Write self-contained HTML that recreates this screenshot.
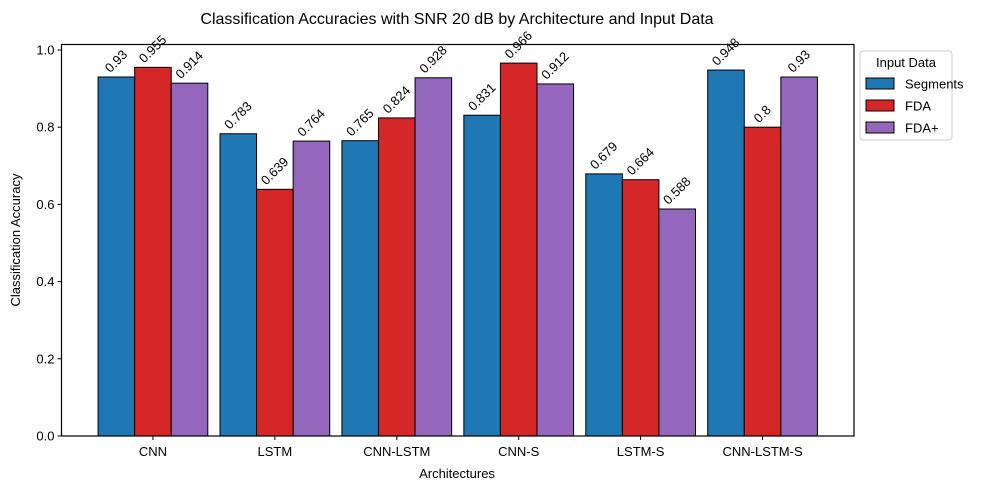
<!DOCTYPE html>
<html><head><meta charset="utf-8"><style>body{margin:0;background:#fff}svg{font-family:"Liberation Sans","DejaVu Sans",sans-serif}</style></head>
<body>
<svg id="c" width="990" height="489" xmlns="http://www.w3.org/2000/svg">
<text x="457" y="24" text-anchor="middle" font-size="16">Classification Accuracies with SNR 20 dB by Architecture and Input Data</text>
<g id="plot"></g>
<text x="457" y="478" text-anchor="middle" font-size="13">Architectures</text>
<text transform="translate(20,240) rotate(-90)" text-anchor="middle" font-size="13">Classification Accuracy</text>
<g>
<rect x="860" y="51" width="92" height="89" fill="#fff" stroke="#ccc" rx="3"/>
<text x="906" y="67" text-anchor="middle" font-size="13">Input Data</text>
<g id="leg"></g>
</g>
</svg>
<script>
const categories=["CNN","LSTM","CNN-LSTM","CNN-S","LSTM-S","CNN-LSTM-S"];
const seriesNames=["Segments","FDA","FDA+"];
const segments=[0.93,0.783,0.765,0.831,0.679,0.948];
const fda=[0.955,0.639,0.824,0.966,0.664,0.8];
const fdaPlus=[0.914,0.764,0.928,0.912,0.588,0.93];
const yTicks=[0,0.2,0.4,0.6,0.8,1.0];
const colors=["#1f77b4","#d62728","#9467bd"];
const series=[segments,fda,fdaPlus];
const L=61.5,R=854,T=44.5,B=436,ymax=1.0142;
const xs=v=>L+(v+0.75)/6.5*(R-L);
const ys=v=>B-v/ymax*(B-T);
const NS="http://www.w3.org/2000/svg";
const g=document.getElementById('plot');
function mk(t,a,p){const e=document.createElementNS(NS,t);for(const k in a)e.setAttribute(k,a[k]);(p||g).appendChild(e);return e;}
const bw=0.3;
series.forEach((s,si)=>{s.forEach((v,i)=>{
 const x0=xs(i+(si-1)*bw-bw/2),x1=xs(i+(si-1)*bw+bw/2);
 const r=mk('rect',{x:x0,y:ys(v),width:x1-x0,height:B-ys(v),fill:colors[si],stroke:'#000','stroke-width':1});
 
 
 const cx=(x0+x1)/2;
 const t=mk('text',{x:0,y:0,'font-size':13,'text-anchor':'middle'});
 t.textContent=String(v);
 
 
 const w=t.getComputedTextLength(),h=10;
 const bh=(w+h)*0.7071;
 const cy=ys(v)-3-bh/2;
 t.setAttribute('transform',`translate(${cx} ${cy}) rotate(-45) translate(0 ${h/2-1})`);
});});
const ax=mk('rect',{x:L,y:T,width:R-L,height:B-T,fill:'none',stroke:'#000','stroke-width':1.2});


yTicks.forEach(v=>{
 mk('line',{x1:L-4,x2:L,y1:ys(v),y2:ys(v),stroke:'#000'});
 const t=mk('text',{x:L-7,y:ys(v)+4.5,'font-size':13,'text-anchor':'end'});
 t.textContent=v.toFixed(1);
 
 
});
categories.forEach((c,i)=>{
 mk('line',{x1:xs(i),x2:xs(i),y1:B,y2:B+4,stroke:'#000'});
 const t=mk('text',{x:xs(i),y:B+20,'font-size':13,'text-anchor':'middle'});
 t.textContent=c;
 
 
});
const lg=document.getElementById('leg');
seriesNames.forEach((n,i)=>{
 const y=84+i*22;
 const r=mk('rect',{x:866,y:y-6,width:28,height:11,fill:colors[i],stroke:'#000'},lg);
 
 
 const t=mk('text',{x:905,y:y+4.5,'font-size':13},lg);
 t.textContent=n;
 
 
});
</script>
</body></html>
